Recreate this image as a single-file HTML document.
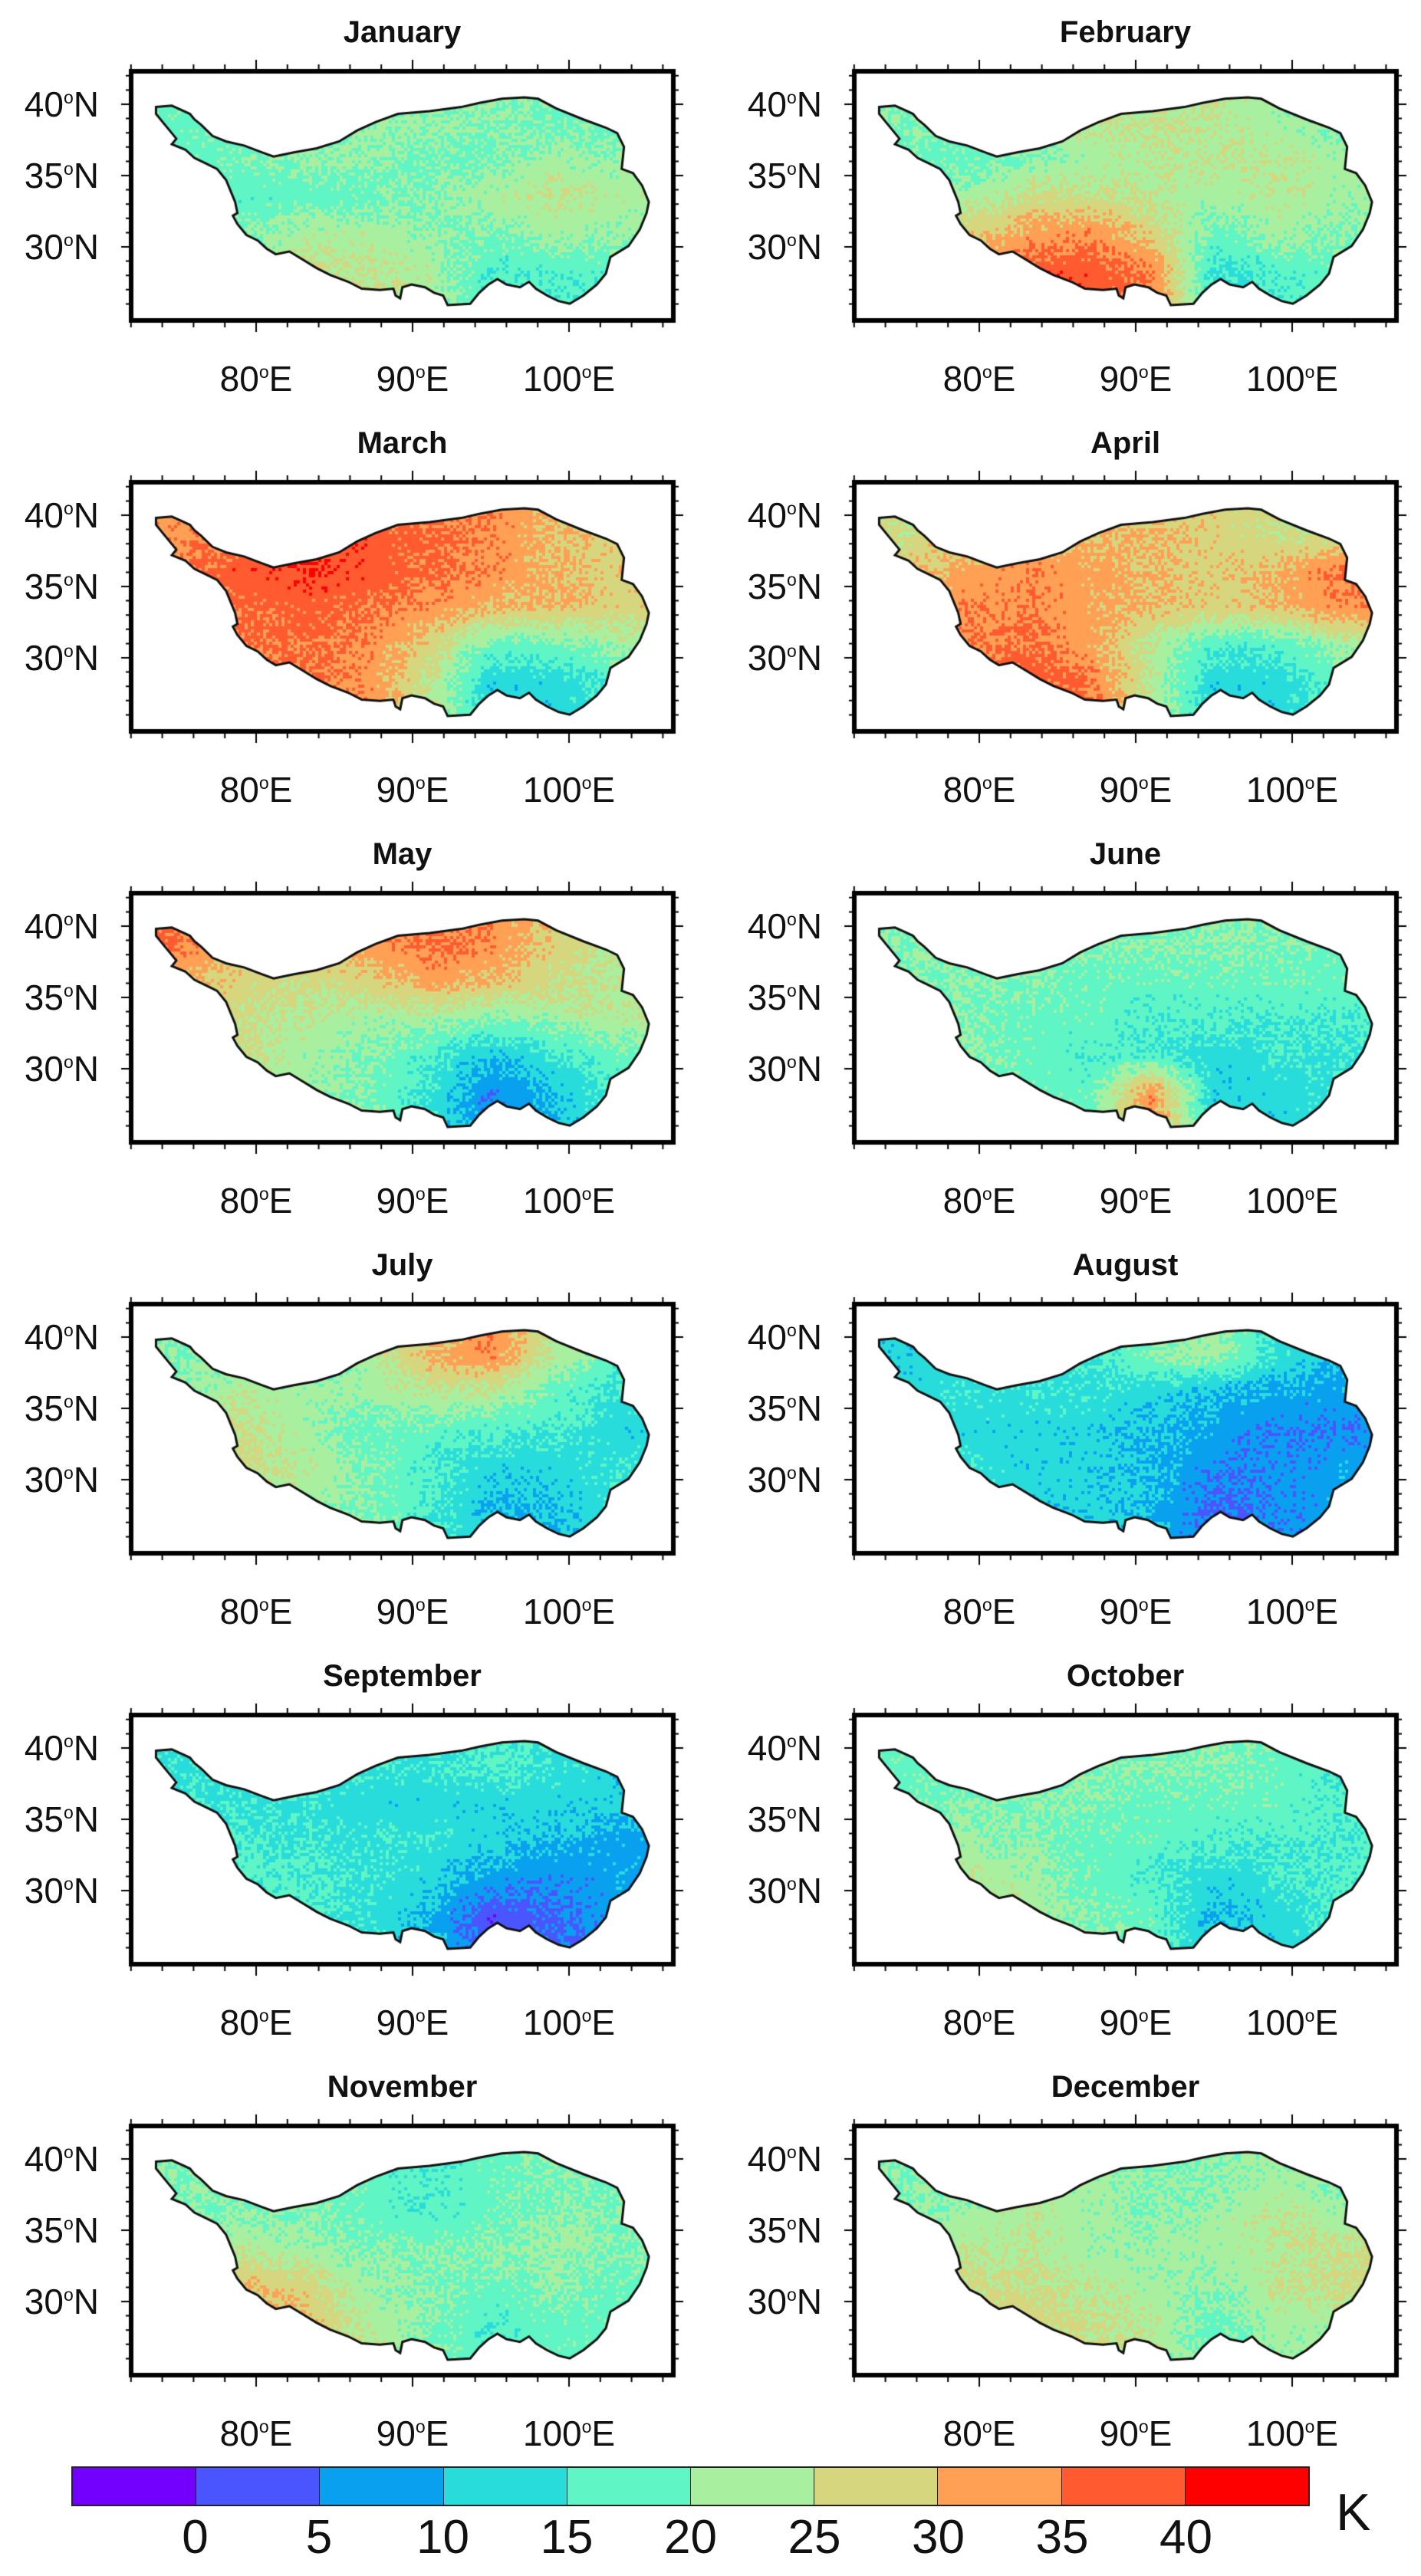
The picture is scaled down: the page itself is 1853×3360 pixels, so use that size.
<!DOCTYPE html>
<html><head><meta charset="utf-8">
<style>
html,body{margin:0;padding:0;background:#fff;}
body{width:1853px;height:3360px;position:relative;overflow:hidden;font-family:"Liberation Sans",sans-serif;}
.t{position:absolute;white-space:nowrap;color:#111;}
canvas{position:absolute;}
sup{font-size:0.5em;vertical-align:0;position:relative;top:-0.75em;}
</style></head>
<body>
<div id="root"></div>
<script>
// Month names
const months = ["January","February","March","April","May","June","July","August","September","October","November","December"];
// Grid values (K), 5 rows north->south, 8 cols west->east (lon 73-105, lat 40-27)
const jan = [18,18,19,21,21,20,19,18, 17,19,21,21,19,19,22,21, 17,17,17,18,20,23,25,23, 17,19,23,23,21,19,22,21, 17,19,25,25,23,16,16,17];
const feb = [20,20,22,24,25,24,22,20, 18,18,20,22,24,24,24,22, 20,22,26,26,24,22,24,22, 22,28,32,34,28,18,22,20, 22,30,38,38,35,14,16,18];
const mar = [33,35,38,38,36,34,30,28, 36,38,40,38,36,34,30,28, 33,36,37,36,33,30,30,28, 30,35,36,34,28,18,18,22, 28,34,35,34,25,12,12,16];
const apr = [26,28,30,30,30,28,26,24, 28,32,34,32,30,28,30,36, 30,34,34,32,30,28,30,34, 28,34,36,32,24,16,16,22, 26,34,38,36,24,12,12,18];
const may = [36,30,28,32,36,34,28,24, 30,28,26,28,32,30,26,24, 28,26,24,22,22,20,22,24, 26,26,22,20,16,10,14,18, 24,24,22,20,14,6,10,16];
const jun = [20,20,20,20,20,20,20,18, 20,20,20,18,18,18,18,18, 20,20,18,18,16,16,16,16, 20,20,18,16,16,12,14,14, 20,20,18,18,34,12,12,14];
const jul = [20,20,20,22,30,34,24,18, 20,24,22,22,24,24,18,14, 22,26,22,18,18,16,16,12, 22,26,24,20,16,12,12,14, 20,22,22,20,16,10,10,14];
const aug = [12,12,12,14,20,22,14,10, 12,14,14,14,12,10,8,8, 12,12,12,12,10,8,6,6, 14,14,12,12,10,6,6,8, 14,14,12,12,10,4,6,8];
const sep = [14,14,14,14,14,16,14,12, 14,14,14,12,12,12,12,12, 16,16,14,14,14,12,10,8, 16,16,16,14,12,8,6,8, 16,16,16,14,10,2,4,8];
const oct = [18,18,20,20,20,20,18,16, 18,20,20,20,18,18,18,16, 20,22,20,18,18,16,16,16, 22,24,22,18,16,12,14,16, 22,24,24,20,18,10,12,16];
const nov = [20,20,20,18,16,18,20,18, 20,20,20,18,16,18,20,20, 22,24,22,20,20,20,22,20, 26,30,28,22,20,18,20,18, 26,32,30,24,20,16,18,18];
const dec = [20,20,22,22,20,20,22,20, 20,22,24,22,20,22,24,22, 22,24,24,22,22,22,24,26, 24,26,26,24,22,20,24,26, 24,28,28,26,24,18,22,22];
const grids = [jan,feb,mar,apr,may,jun,jul,aug,sep,oct,nov,dec];
const cbLabels = ["0","5","10","15","20","25","30","35","40"];
const cbColors = ['#7300ff','#4a55ff','#0aa0f0','#28dcdc','#5ff5c5','#a8f0a0','#d6d67e','#ffa055','#ff5a30','#ff0000'];
const latTicks = [40,35,30];
const lonTicks = [80,90,100];

const root = document.getElementById('root');
const BW=707, BH=325, COLX=[171,1114], TOP0=93, PITCH=536;
function lx(lon){return 163+(lon-80)*20.4;}
function ly(lat){return 43+(40-lat)*18.6;}
const outlineRaw=[[345,375],[380,370],[400,385],[420,400],[430,420],[445,440],[470,480],[500,500],[540,515],[580,540],[605,555],[650,540],[700,525],[750,500],[790,460],[830,430],[880,400],[950,390],[1020,375],[1060,360],[1110,345],[1160,340],[1190,345],[1230,380],[1290,420],[1340,450],[1365,470],[1380,520],[1375,600],[1400,615],[1420,660],[1435,720],[1430,760],[1415,820],[1390,880],[1350,920],[1340,980],[1320,1020],[1290,1060],[1260,1090],[1235,1080],[1210,1060],[1185,1035],[1170,1010],[1150,1030],[1120,1020],[1100,1000],[1080,1020],[1060,1050],[1040,1090],[990,1095],[980,1060],[960,1050],[940,1030],[910,1020],[890,1030],[885,1070],[875,1060],[870,1035],[840,1040],[800,1035],[770,1010],[730,985],[700,960],[670,930],[640,900],[610,910],[590,890],[570,860],[545,840],[525,800],[515,770],[525,760],[520,720],[510,680],[500,640],[480,600],[455,580],[430,560],[410,530],[380,510],[390,490],[375,460],[360,430],[345,400]];
const outline=outlineRaw.map(p=>[p[0]/1.696-171, p[1]/2.786-88]);
function colorOf(v){let i=Math.floor(v/5)+1;if(i<0)i=0;if(i>9)i=9;return cbColors[i];}
function sample(g,lon,lat){
  let fx=(lon-75)/4, fy=(40-1.3-lat)/2.6;
  fx=Math.max(0,Math.min(7,fx)); fy=Math.max(0,Math.min(4,fy));
  const x0=Math.floor(fx),y0=Math.floor(fy),x1=Math.min(7,x0+1),y1=Math.min(4,y0+1),ax=fx-x0,ay=fy-y0;
  const a=g[y0*8+x0],b=g[y0*8+x1],c=g[y1*8+x0],d=g[y1*8+x1];
  return (a*(1-ax)+b*ax)*(1-ay)+(c*(1-ax)+d*ax)*ay;
}
// deterministic texture for rendering only (speckle like the satellite field)
function speckle(x,y){const s=Math.sin(x*12.9898+y*78.233)*43758.5453;return (s-Math.floor(s))-0.5;}
function addText(html,x,y,size,bold,anchor,name){
  const d=document.createElement('div');d.className='t';d.innerHTML=html;
  d.style.fontSize=size+'px';d.style.fontWeight=bold?'bold':'normal';
  d.style.left=x+'px';d.style.top=(y-size*0.58)+'px';
  if(anchor==='middle')d.style.transform='translateX(-50%)';
  if(anchor==='end')d.style.transform='translateX(-100%)';
  
  
  root.appendChild(d);
}
months.forEach((m,k)=>{
  const bx=COLX[k%2], by=TOP0+Math.floor(k/2)*PITCH;
  const g=grids[k];
  addText(m,bx+BW/2,by-50,40,true,'middle','panel-title-'+m.toLowerCase());
  const cv=document.createElement('canvas');
  cv.width=BW+40;cv.height=BH+40;cv.style.left=(bx-20)+'px';cv.style.top=(by-20)+'px';
  
  
  root.appendChild(cv);
  const c=cv.getContext('2d');c.translate(20,20);
  c.save();c.beginPath();outline.forEach((p,i)=>i?c.lineTo(p[0],p[1]):c.moveTo(p[0],p[1]));c.closePath();c.clip();
  const S=4;
  for(let y=0;y<BH;y+=S)for(let x=0;x<BW;x+=S){
    const lon=80+(x+S/2-163)/20.4, lat=40-(y+S/2-43)/18.6;
    c.fillStyle=colorOf(sample(g,lon,lat)+speckle(x,y)*5);c.fillRect(x,y,S,S);
  }
  c.restore();
  c.beginPath();outline.forEach((p,i)=>i?c.lineTo(p[0],p[1]):c.moveTo(p[0],p[1]));c.closePath();
  c.lineWidth=3;c.strokeStyle='#111';c.stroke();
  c.lineWidth=6;c.strokeStyle='#000';c.strokeRect(0,0,BW,BH);
  c.lineWidth=2;
  for(let lon=72;lon<=106;lon+=2){const x=lx(lon);const L=(lon%10===0)?12:6;
    c.beginPath();c.moveTo(x,-3);c.lineTo(x,-3-L);c.moveTo(x,BH+3);c.lineTo(x,BH+3+L);c.stroke();}
  for(let lat=26;lat<=42;lat++){const y=ly(lat);if(y<0||y>BH)continue;const L=(lat%5===0)?10:4;
    c.beginPath();c.moveTo(-3,y);c.lineTo(-3-L,y);c.moveTo(BW+3,y);c.lineTo(BW+3+L,y);c.stroke();}
  latTicks.forEach(lat=>addText(lat+'<sup>o</sup>N',bx-42,by+ly(lat),46,false,'end','lat-label-'+lat));
  lonTicks.forEach(lon=>addText(lon+'<sup>o</sup>E',bx+lx(lon),by+BH+76,46,false,'middle','lon-label-'+lon));
});
// colorbar
const CBX=93,CBW=1615,CBY=3217,CBH=52,seg=CBW/cbColors.length;
const cb=document.createElement('div');
cb.style.cssText='position:absolute;left:'+CBX+'px;top:'+CBY+'px;width:'+CBW+'px;height:'+CBH+'px;border:2px solid #222;box-sizing:border-box;display:flex;';


root.appendChild(cb);
cbColors.forEach((col,i)=>{const s=document.createElement('div');
  s.style.cssText='flex:1;background:'+col+';'+(i?'border-left:1.5px solid #222;':'');
  
  
  cb.appendChild(s);});
cbLabels.forEach((t,i)=>addText(t,CBX+seg*(i+1),3310,62,false,'middle','colorbar-label'));
addText('K',1742,3277,68,false,'start','colorbar-unit');
</script>
</body></html>
